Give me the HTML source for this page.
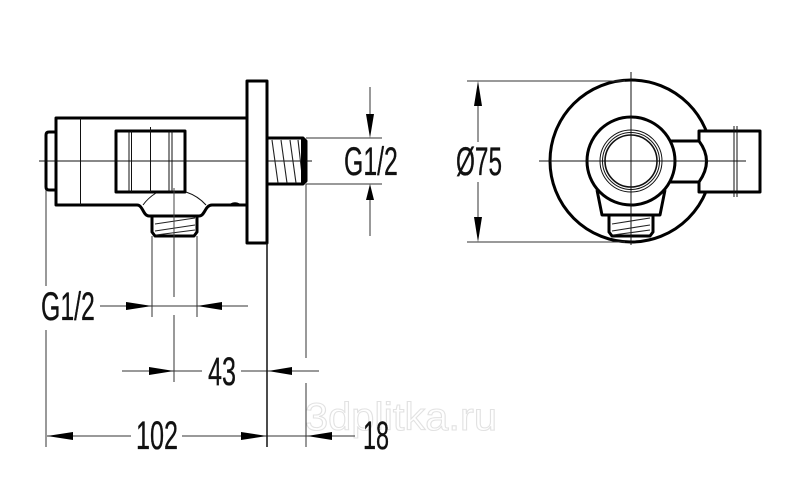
<!DOCTYPE html>
<html><head><meta charset="utf-8"><style>
html,body{margin:0;padding:0;background:#fff;width:800px;height:500px;overflow:hidden}
svg{display:block}
text{font-family:"Liberation Sans",sans-serif;font-size:36px;fill:#111;stroke:#111;stroke-width:.3}
</style></head><body>
<svg width="800" height="500" viewBox="0 0 800 500" xmlns="http://www.w3.org/2000/svg">
<rect width="800" height="500" fill="#fff"/>
<text transform="translate(305 430) scale(1.125 1.05)" style="font-size:37px;fill:#fff;stroke:#e2e2e2;stroke-width:1">3dplitka.ru</text>

<!-- thick outlines -->
<g fill="none" stroke="#000" stroke-width="3" stroke-linejoin="round">
<path d="M247 118H56V205H137C143 205 143 216 149 216H199C205 216 205 205 212 205H247"/>
<path d="M56 132H49Q46 132 46 135V187Q46 190 49 190H56"/>
<rect x="116" y="131" width="69" height="61"/>
<path d="M152 217V232L155 236H194L197 232V217"/>
<rect x="247" y="81" width="20" height="162"/>
<path d="M267 138H303L306 141V181L303 184H267"/>
<circle cx="631" cy="161" r="81"/>
<path d="M670 141H699Q714 161 699 182H670Z" fill="#fff" stroke="none"/>
<path d="M699 141V131H760V192H699V182" fill="#fff" stroke="none"/>
<path d="M699 141Q714 161 699 182H760V141Z" fill="#fff" stroke="none"/>
<path d="M670 141H699V131H760V192H699V182H670M699 141Q714 161 699 182"/>
<path d="M597 190L602 215H660L665 190"/>
<circle cx="631" cy="161" r="44" fill="#fff"/>
<path d="M609 216V232L612 236H650L653 232V216"/>
</g>

<!-- thin lines -->
<g fill="none" stroke="#111" stroke-width="1">
<path d="M39 161H246M268 161H312"/>
<path d="M539 161H746M631 72V245"/>
<path d="M80.5 118V205M129 131V192M131.500 131V192M169 131V192M172 131V192"/>
<path d="M150.500 127V192"/>
<path d="M143 205Q148 198 156 193M186 192Q198 196 206 205"/>
<path d="M734 126V197M737 126V197"/>
<circle cx="631" cy="161" r="31"/>
<circle cx="631" cy="161" r="28.500"/>
</g>
<circle cx="631" cy="161" r="26" fill="none" stroke="#111" stroke-width="1.600"/>
<g fill="none" stroke="#222" stroke-width="1.100">
<path d="M155 224L195 218M155 231L195 225M156 235L195 230"/>
<path d="M612 224L650 218M612 231L650 225M613 235L650 230"/>
<path d="M272 140L278 183M281 140L287 183M290 140L296 183M298 140L303 183"/>
</g>
<path d="M231 204Q235 202 239 204Z" stroke="#000" stroke-width="1.500" fill="#000"/>
<rect x="301" y="139" width="5" height="44" fill="#000"/>
<path d="M174 188V236" stroke="#444" stroke-width="1"/>

<!-- dimension lines -->
<g fill="none" stroke="#333" stroke-width="1">
<path d="M306 138H382M306 184H382M370 87V114M370 200V236"/>
<path d="M467 81H625M467 242H625M478 106V142M478 182V217"/>
<path d="M152 236V317M197 236V317M174 236V297M174 315V382"/>
<path d="M100 306H248"/>
<path d="M122 371H202M241 371H319"/>
<path d="M306 184V358M306 383V447"/>
<path d="M46 190V286M46 330V447"/>
<path d="M47 436H131M182 436H355"/>
</g>
<path d="M267 243V447" stroke="#111" stroke-width="1.500" fill="none"/>

<!-- arrowheads -->
<g fill="#000">
<path d="M370 138L366 114H374Z"/>
<path d="M370 184L366 200H374Z"/>
<path d="M478 81L474 106H482Z"/>
<path d="M478 242L474 217H482Z"/>
<path d="M152 306L126 302V310Z"/>
<path d="M197 306L222 302V310Z"/>
<path d="M174 371L149 367V375Z"/>
<path d="M268 371L292 367V375Z"/>
<path d="M47 436L73 432V440Z"/>
<path d="M267 436L241 432V440Z"/>
<path d="M307 436L332 432V440Z"/>
</g>

<!-- labels -->
<text transform="translate(344 175) scale(.69 1.1)">G1/2</text>
<text transform="translate(456 175) scale(.676 1.1)">Ø75</text>
<text transform="translate(41 320) scale(.69 1.1)">G1/2</text>
<text transform="translate(208 385) scale(.7 1.1)">43</text>
<text transform="translate(136 449) scale(.7 1.1)">102</text>
<text transform="translate(363 449) scale(.65 1.1)">18</text>
</svg>
</body></html>
